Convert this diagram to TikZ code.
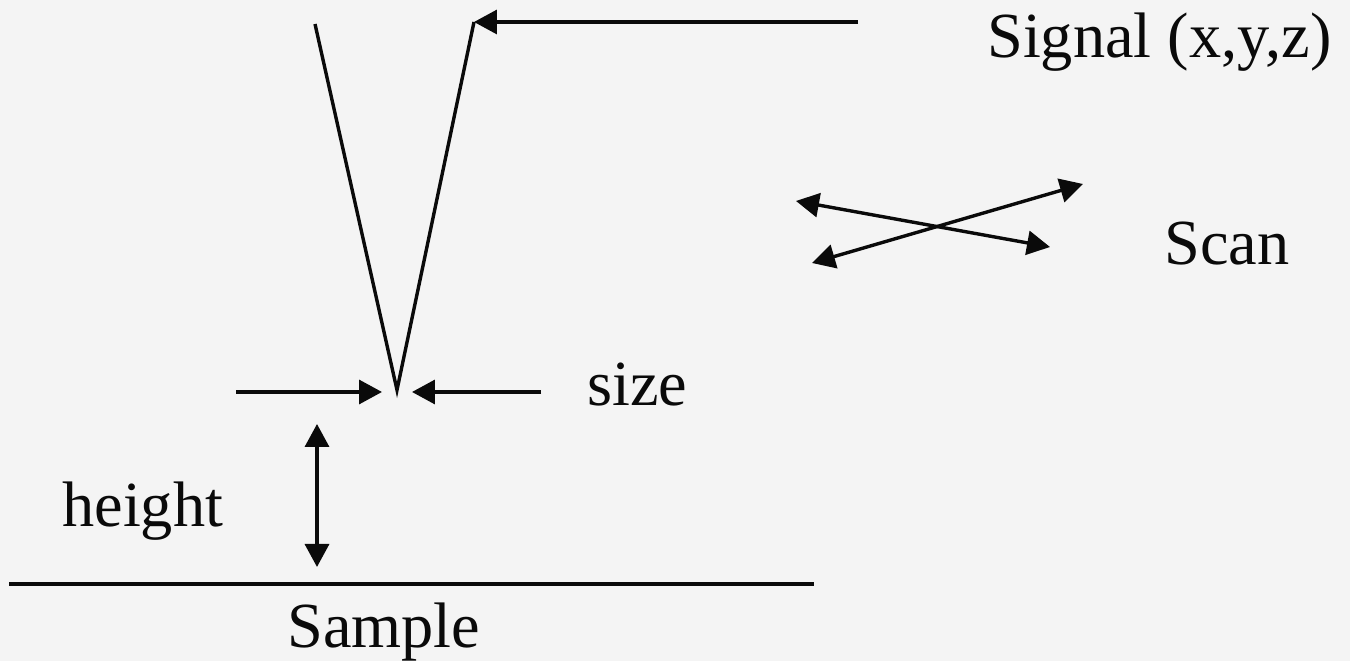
\documentclass[tikz,border=0pt]{standalone}
\usepackage{fontspec}
\setmainfont{Liberation Serif}
\usetikzlibrary{arrows.meta}
\definecolor{paper}{HTML}{F4F4F4}
\definecolor{ink}{HTML}{0A0A0A}
\begin{document}
\begin{tikzpicture}[x=0.02cm,y=-0.02cm,
  ln/.style={draw=ink,line width=0.068cm},
  arr/.style={ln,-{Triangle[length=0.46cm,width=0.48cm]}},
  darr/.style={ln,{Triangle[length=0.46cm,width=0.48cm]}-{Triangle[length=0.46cm,width=0.48cm]}},
  lbl/.style={inner sep=0pt,anchor=base west,text=ink,font=\fontsize{36.6}{40}\selectfont}]
\fill[paper] (0,0) rectangle (1350,661);
\useasboundingbox (0,0) rectangle (1350,661);
% probe
\coordinate (vl) at (315,24);
\coordinate (vb) at (397,390);
\coordinate (vr) at (474,22);
\coordinate (sigtail) at (858,22);
\draw[ln,line join=miter] (vl) -- (vb) -- (vr);
\draw[arr] (sigtail) -- (vr);
% size arrows
\coordinate (sl) at (236,392);
\coordinate (slt) at (382,392);
\coordinate (sr) at (541,392);
\coordinate (srt) at (412,392);
\draw[arr] (sl) -- (slt);
\draw[arr] (sr) -- (srt);
% height
\coordinate (ht) at (317,424);
\coordinate (hb) at (317,567);
\draw[darr] (ht) -- (hb);
% sample
\coordinate (s1) at (9,584);
\coordinate (s2) at (814,584);
\draw[ln] (s1) -- (s2);
% scan
\coordinate (a1) at (796,201);
\coordinate (a2) at (1050,247);
\coordinate (b1) at (812,263);
\coordinate (b2) at (1083,184);
\draw[darr] (a1) -- (a2);
\draw[darr] (b1) -- (b2);
% labels
\node[lbl] (signal) at (987,58) {Signal (x,y,z)};
\node[lbl] (scan) at (1164,265) {Scan};
\node[lbl] (size) at (587,406) {size};
\node[lbl] (height) at (62,527) {height};
\node[lbl] (sample) at (287,648) {Sample};
\end{tikzpicture}
\end{document}
